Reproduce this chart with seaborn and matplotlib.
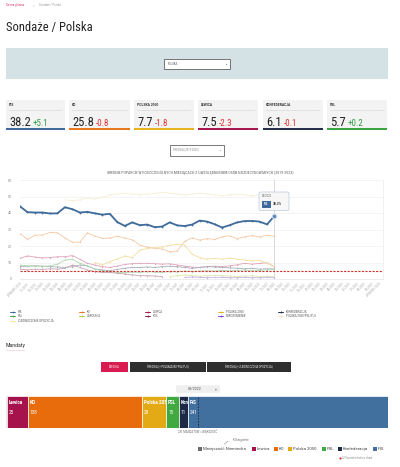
import numpy as np
import pandas as pd
import matplotlib
matplotlib.use('Agg')
import matplotlib.pyplot as plt
import seaborn as sns
from matplotlib.patches import Rectangle, FancyBboxPatch
from matplotlib.transforms import TransformedBbox

sns.set_style('white')
plt.rcParams['font.family'] = ['Roboto', 'DejaVu Sans']
NARROW = ['Liberation Sans Narrow', 'Roboto Condensed', 'Roboto', 'DejaVu Sans']

# ---- data ----
months = (['WYBORY 2019']
          + list(pd.period_range('2019-11', '2023-09', freq='M').strftime('%m/%Y'))
          + ['WYBORY 2023'])

pis = [44.0, 40.5, 40.3, 40.3, 39.7, 39.8, 43.5, 42.3, 40.3, 40.7, 39.8, 39.0, 39.5, 34.5,
       32.2, 34.3, 32.6, 33.0, 31.4, 31.8, 34.3, 32.5, 32.1, 33.0, 35.4, 34.8, 33.2, 31.2,
       32.6, 34.3, 35.1, 35.2, 34.8, 33.1, 38.2]
ko = [27.5, 24.0, 26.5, 26.7, 28.2, 28.0, 25.0, 22.3, 22.3, 28.0, 26.0, 24.6, 24.8, 26.0,
      24.8, 23.8, 20.5, 19.3, 18.6, 18.2, 16.5, 17.0, 22.8, 25.0, 23.5, 24.5, 24.0, 25.5,
      26.2, 24.5, 25.5, 26.3, 25.5, 26.6, 25.8]
lewica = [12.5, 14.0, 13.3, 12.8, 13.0, 13.5, 13.5, 14.2, 12.0, 9.5, 8.5, 7.5, 7.0, 7.8,
          8.8, 9.3, 9.5, 9.5, 9.3, 9.0, 9.2, 8.5, 7.8, 7.2, 7.0, 7.5, 7.8, 7.5, 8.0, 8.6,
          9.5, 9.0, 9.5, 9.8, 7.5]
konfederacja = [7.5, 7.8, 8.0, 7.8, 7.5, 7.3, 7.0, 7.5, 8.5, 8.0, 6.0, 5.5, 5.0, 5.8, 6.5,
                7.0, 7.0, 7.3, 7.0, 7.5, 7.8, 7.5, 7.0, 6.5, 7.0, 7.5, 7.3, 7.0, 6.8, 6.5,
                6.2, 6.5, 6.0, 6.2, 6.1]
psl = [8.5, 8.0, 7.8, 7.5, 8.0, 9.0, 11.5, 12.0, 9.5, 8.0, 6.0, 5.0, 4.5, 4.0, 3.8, 4.2,
       4.0, 4.5, 4.2, 4.0, 4.5, 4.3, 4.8, 4.5, 4.8, 5.0, 4.8, 5.2, 5.0, 5.2, 5.5, 5.0, 5.3,
       5.5, 5.7]
polska2050 = [10.0, 8.5, 10.5, 12.0, 14.0, 13.0, 17.5, 18.5, 19.0, 19.5, 20.5, 21.0, 20.5,
              15.0, 13.0, 12.0, 12.5, 12.0, 12.8, 12.0, 11.5, 11.0, 11.3, 9.5, 7.7]
polska2050_from = 10
k15 = [6.0, 5.5, 6.0, 5.8, 6.2, 6.0, 6.5, 8.5, 7.0, 5.5, 4.5, 4.0, 4.0, 3.5, 3.0, 2.5, 2.0,
       2.0, 1.8, 1.5]
agrounia = [1.5, 2.0, 2.5, 2.0, 1.8, 2.0, 2.2, 2.0, 1.8, 1.5, 1.8, 2.0, 1.5, 1.8, 1.2]
agrounia_from = 20
porozumienie = [1.0, 1.2, 1.0, 0.8, 1.0, 1.0, 0.8, 0.8, 1.0, 0.8, 0.8, 1.0, 0.8]
porozumienie_from = 22
zjednoczona = [48.0, 47.5, 48.0, 49.0, 48.5, 49.5, 51.0, 51.5, 52.0, 51.5, 51.0, 51.5, 52.0,
               52.5, 52.0, 51.5, 51.0, 51.5, 52.0, 51.5, 51.0, 50.5, 51.0, 51.5, 51.0, 50.5,
               51.0, 50.5, 51.0]
zjednoczona_from = 6

card_names = ['PIS', 'KO', 'POLSKA 2050', 'LEWICA', 'KONFEDERACJA', 'PSL']
card_values = [38.2, 25.8, 7.7, 7.5, 6.1, 5.7]
card_changes = [5.1, -0.8, -1.8, -2.3, -0.1, 0.2]

seat_parties = ['Mniejszość Niemiecka', 'Lewica', 'KO', 'Polska 2050', 'PSL', 'Konfederacja', 'PiS']
seat_values = [1, 25, 138, 29, 15, 11, 241]
majority = 231

# ---- colours ----
strong = {'PIS': '#3e6b9b', 'KO': '#e8781f', 'LEWICA': '#a8174f', 'POLSKA 2050': '#e6b41f',
          'KONFEDERACJA': '#26304a', 'PSL': '#3ea547', 'AGROUNIA': '#b6cf2c', "K'15": '#7b1c3e',
          'POROZUMIENIE': '#7a3fd0', 'POLSKA 2050/PSL/PJJ': '#efe6c4', 'ZJEDNOCZONA OPOZYCJA': '#f2e3a2'}
faded = {'PIS': '#3e6b9b', 'KO': '#f6c8a4', 'LEWICA': '#e0a3b9', 'POLSKA 2050': '#f3dea0',
         'KONFEDERACJA': '#a9adb8', 'PSL': '#add8ae', 'AGROUNIA': '#dce9a6', "K'15": '#c9a3b1',
         'POROZUMIENIE': '#c6b0ea', 'ZJEDNOCZONA OPOZYCJA': '#f7f0d6'}
seat_colors = ['#6b6b6b', '#a6134c', '#e86b0c', '#e4aa16', '#40a940', '#1e2a45', '#416f9e']

series = {'PIS': (pis, 0), 'KO': (ko, 0), 'LEWICA': (lewica, 0), 'POLSKA 2050': (polska2050, polska2050_from),
          'KONFEDERACJA': (konfederacja, 0), 'PSL': (psl, 0), 'AGROUNIA': (agrounia, agrounia_from),
          "K'15": (k15, 0), 'POROZUMIENIE': (porozumienie, porozumienie_from),
          'ZJEDNOCZONA OPOZYCJA': (zjednoczona, zjednoczona_from)}
rows = []
for party, (vals, start) in series.items():
    for i, v in enumerate(vals):
        rows.append({'party': party, 'idx': start + i, 'value': v})
df = pd.DataFrame(rows)

# ---- figure ----
W, H = 400, 467
fig = plt.figure(figsize=(W / 100, H / 100), dpi=100)
fig.patch.set_facecolor('white')


def px(x0, y0, x1, y1):
    return [x0 / W, 1 - y1 / H, (x1 - x0) / W, (y1 - y0) / H]


bg = fig.add_axes([0, 0, 1, 1])
bg.set_xlim(0, W)
bg.set_ylim(H, 0)
bg.axis('off')

# header
bg.text(6, 5, 'Strona główna', color='#d6336c', fontsize=2.0, va='center')
bg.text(33, 5, '>', color='#999999', fontsize=2.0, va='center')
bg.text(39, 5, 'Sondaże / Polska', color='#999999', fontsize=2.0, va='center')
bg.text(6, 28, 'Sondaże / Polska', color='#222222', fontsize=9, va='center', family=NARROW)

bg.add_patch(Rectangle((6, 48), 382, 31, fc='#d4e2e5', ec='none'))
bg.add_patch(Rectangle((164, 59), 66, 10, fc='white', ec='#444444', lw=0.5))
bg.text(168, 64, 'POLSKA', fontsize=2.0, va='center', color='#555555')
bg.text(226, 64, '⌄', fontsize=2.6, va='center', ha='center', color='#555555')

# cards
card_x = [(6, 65), (69, 130), (134, 194), (198, 258), (263, 323), (327, 387)]
for (x0, x1), name, val, chg in zip(card_x, card_names, card_values, card_changes):
    bg.add_patch(Rectangle((x0, 100), x1 - x0, 30, fc='#f3f3f3', ec='none'))
    bg.add_patch(Rectangle((x0, 128), x1 - x0, 2.2, fc=strong[name], ec='none'))
    bg.text(x0 + 3, 105.5, name, fontsize=2.4, fontweight='bold', va='center', color='#333333')
    bg.plot([x0 + 3, x1 - 3], [110, 110], color='#b5b5b5', lw=0.4, ls=(0, (1, 1)))
    t = bg.text(x0 + 3, 125.5, f'{val:.1f}', fontsize=9, va='baseline', color='#222222', family=NARROW)
    bg.annotate(f'{chg:+.1f}', xy=(1, 0), xycoords=t, xytext=(1.5, 0.6), textcoords='offset points',
                fontsize=6.5, va='bottom', family=NARROW,
                color='#2f9e44' if chg > 0 else '#e03131')

bg.add_patch(Rectangle((170, 145), 54, 10.5, fc='white', ec='#444444', lw=0.5))
bg.text(173, 150.3, 'ŚREDNIA (2019-2023)', fontsize=1.9, va='center', color='#888888')
bg.text(220, 150.3, '⌄', fontsize=2.4, va='center', ha='center', color='#666666')

bg.text(200, 172.5, 'ŚREDNIE POPARCIE W POSZCZEGÓLNYCH MIESIĄCACH Z UWZGLĘDNIENIEM OSÓB NIEZDECYDOWANYCH (2019-2023)',
        fontsize=2.9, ha='center', va='center', color='#666666', family=NARROW)

# ---- line chart ----
ax = fig.add_axes(px(20, 180, 383, 279))
ax.set_facecolor('none')
others = df[df['party'] != 'PIS']
sns.lineplot(data=others, x='idx', y='value', hue='party', palette=faded, ax=ax, legend=False,
             linewidth=0.6, marker='o', markersize=1.0, markeredgewidth=0)
sns.lineplot(data=df[df['party'] == 'PIS'], x='idx', y='value', hue='party', palette=faded, ax=ax,
             legend=False, linewidth=1.3, marker='o', markersize=1.3, markeredgewidth=0)
last = len(pis) - 1
ax.plot(last, pis[-1], 'o', ms=3.2, mfc='#5b87b8', mec='#c9d8ea', mew=0.8, zorder=5)
ax.axhline(5, color='#d0342c', lw=0.8, ls=(0, (2, 1.2)), zorder=4)
ax.axvline(last, color='#cccccc', lw=0.5, zorder=1)
ax.set_xlim(0, 48.5)
ax.set_ylim(0, 60)
ax.set_yticks(range(0, 61, 10))
ax.set_xticks(range(len(months)))
ax.set_xticklabels(months, rotation=45, ha='right', rotation_mode='anchor', fontsize=2.1, color='#aaaaaa')
ax.tick_params(axis='y', labelsize=2.5, labelcolor='#888888', length=0, pad=6)
ax.tick_params(axis='x', length=0, pad=2)
ax.grid(axis='y', color='#ececec', lw=0.4)
ax.set_xlabel('')
ax.set_ylabel('')
for s in ['top', 'left']:
    ax.spines[s].set_visible(False)
ax.spines['right'].set_color('#e6e6e6')
ax.spines['right'].set_linewidth(0.4)
ax.spines['bottom'].set_color('#dddddd')
ax.spines['bottom'].set_linewidth(0.4)

# chart legend
legend_rows = [['PIS', 'KO', 'LEWICA', 'POLSKA 2050', 'KONFEDERACJA'],
               ['PSL', 'AGROUNIA', "K'15", 'POROZUMIENIE', 'POLSKA 2050/PSL/PJJ'],
               ['ZJEDNOCZONA OPOZYCJA']]
col_x = [10, 79, 145, 218, 278]
row_y = [312, 316.3, 320.6]
for r, names in enumerate(legend_rows):
    for c, name in enumerate(names):
        x, y = col_x[c], row_y[r]
        bg.plot([x, x + 5], [y, y], color=strong[name], lw=0.7)
        bg.plot(x + 2.5, y, 'o', ms=1.3, color=strong[name], mew=0)
        bg.text(x + 7.5, y, name, fontsize=2.1, va='center', color='#555555')

# ---- mandates ----
bg.text(6, 346, 'Mandaty', fontsize=4.2, va='center', color='#333333', family=NARROW)
bg.plot([6, 25], [349.5, 349.5], color='#e6a0b5', lw=0.4, ls=(0, (1, 0.6)))
buttons = [('ŚREDNIA', 101, 128, '#d81b50'),
           ('ŚREDNIA (+ POLSKA2050/PSL/PJJ)', 130, 206, '#2e2e2e'),
           ('ŚREDNIA (+ ZJEDNOCZONA OPOZYCJA)', 207, 291, '#2e2e2e')]
for label, x0, x1, col in buttons:
    bg.add_patch(Rectangle((x0, 361.5), x1 - x0, 10.5, fc=col, ec='none'))
    bg.text((x0 + x1) / 2, 366.8, label, fontsize=1.9, color='white', ha='center', va='center')

bg.add_patch(FancyBboxPatch((176, 385.3), 44, 7.6, boxstyle='round,pad=0,rounding_size=1.2',
                            fc='#efefef', ec='none'))
bg.text(188, 389.2, '08/2022', fontsize=2.6, va='center', color='#555555')
bg.text(216, 389.0, '▾', fontsize=2.6, va='center', ha='center', color='#777777')

bar = fig.add_axes(px(6, 396, 388, 428))
lefts = np.cumsum([0] + seat_values[:-1])
bars = bar.barh(0, seat_values, left=lefts, height=1, color=seat_colors, edgecolor='white', linewidth=0.5)
bar.set_xlim(0, sum(seat_values))
bar.set_ylim(-0.5, 0.5)
bar.axis('off')
for patch, name, val, left in zip(bars.patches, seat_parties, seat_values, lefts):
    if val < 5:
        continue
    clip = TransformedBbox(patch.get_bbox(), bar.transData)
    for txt, yy, fw in [(name, 0.31, 'bold'), (str(val), 0.0, 'normal')]:
        t = bar.text(left + 2.2, yy, txt, fontsize=3.3, fontweight=fw, color='white', va='center')
        t.set_clip_box(clip)
        t.set_clip_on(True)
bar.axvline(majority, color='#1d2841', lw=0.6, ls=(0, (2, 1.5)))

bg.text(197.5, 431.5, '231 MANDATÓW = WIĘKSZOŚĆ', fontsize=2.0, ha='center', va='center', color='#666666')

# seats legend
leg_x = [198, 252, 274, 288, 322, 338, 373]
for x, name, col in zip(leg_x, seat_parties, seat_colors):
    bg.add_patch(Rectangle((x, 446.8), 3.8, 4.4, fc=col, ec='none'))
    bg.text(x + 5, 449, name, fontsize=3.1, va='center', color='#444444')
bg.text(233, 440.3, 'Kliknij partie', fontsize=2.0, va='center', color='#666666')
bg.annotate('', xy=(223, 446.5), xytext=(231, 440.8),
            arrowprops=dict(arrowstyle='-', color='#888888', lw=0.4, connectionstyle='arc3,rad=0.3'))
bg.plot(340, 458, 'o', ms=1.6, color='#e03131', mew=0)
bg.text(342, 458, 'A Flourish election chart', fontsize=2.0, va='center', color='#888888')

# tooltip on top
top = fig.add_axes([0, 0, 1, 1])
top.set_xlim(0, W)
top.set_ylim(H, 0)
top.axis('off')
top.patch.set_alpha(0)
top.add_patch(FancyBboxPatch((259, 192), 30, 18.5, boxstyle='round,pad=0,rounding_size=1.5',
                             fc='#f7f7f7', ec='#b9c8d8', lw=0.5, alpha=0.95))
top.text(262, 196, '08/2022', fontsize=2.0, va='center', color='#666666')
top.add_patch(Rectangle((262, 201), 9, 6.5, fc='#3e6b9b', ec='none'))
top.text(266.5, 204.3, 'PIS', fontsize=2.1, va='center', ha='center', color='white', fontweight='bold')
top.text(273, 204.3, '38.3%', fontsize=2.3, va='center', color='#333333', fontweight='bold')

fig.savefig('out.png', dpi=100, facecolor='white')
